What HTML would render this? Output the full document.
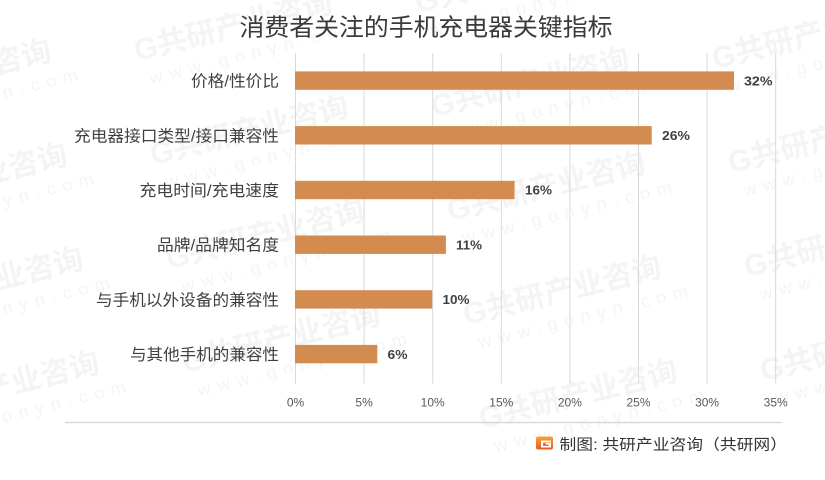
<!DOCTYPE html>
<html>
<head>
<meta charset="utf-8">
<style>
  html, body { margin:0; padding:0; background:#ffffff; }
  body { width:825px; height:480px; overflow:hidden; }
  svg { display:block; }
  .cjk { font-family: "Liberation Sans", "Noto Sans CJK SC", "WenQuanYi Zen Hei", sans-serif; }
  .lat { font-family: "Liberation Sans", "DejaVu Sans", sans-serif; }
</style>
</head>
<body>
<svg width="825" height="480" viewBox="0 0 825 480" xmlns="http://www.w3.org/2000/svg" overflow="hidden">
  <rect x="0" y="0" width="825" height="480" fill="#ffffff"/>

  <!-- Watermarks (behind) -->
  <g class="cjk" fill="#000000" opacity="0.045">
    <g transform="translate(-144,109) rotate(-14)"><text font-size="30" font-weight="bold">G共研产业咨询</text><text x="8" y="26" font-size="18" textLength="215" lengthAdjust="spacing">www.gonyn.com</text></g>
    <g transform="translate(-128,213) rotate(-14)"><text font-size="30" font-weight="bold">G共研产业咨询</text><text x="8" y="26" font-size="18" textLength="215" lengthAdjust="spacing">www.gonyn.com</text></g>
    <g transform="translate(-112,317) rotate(-14)"><text font-size="30" font-weight="bold">G共研产业咨询</text><text x="8" y="26" font-size="18" textLength="215" lengthAdjust="spacing">www.gonyn.com</text></g>
    <g transform="translate(-96,421) rotate(-14)"><text font-size="30" font-weight="bold">G共研产业咨询</text><text x="8" y="26" font-size="18" textLength="215" lengthAdjust="spacing">www.gonyn.com</text></g>

    <g transform="translate(137,61) rotate(-14)"><text font-size="30" font-weight="bold">G共研产业咨询</text><text x="8" y="26" font-size="18" textLength="215" lengthAdjust="spacing">www.gonyn.com</text></g>
    <g transform="translate(153,165) rotate(-14)"><text font-size="30" font-weight="bold">G共研产业咨询</text><text x="8" y="26" font-size="18" textLength="215" lengthAdjust="spacing">www.gonyn.com</text></g>
    <g transform="translate(169,269) rotate(-14)"><text font-size="30" font-weight="bold">G共研产业咨询</text><text x="8" y="26" font-size="18" textLength="215" lengthAdjust="spacing">www.gonyn.com</text></g>
    <g transform="translate(185,373) rotate(-14)"><text font-size="30" font-weight="bold">G共研产业咨询</text><text x="8" y="26" font-size="18" textLength="215" lengthAdjust="spacing">www.gonyn.com</text></g>

    <g transform="translate(418,13) rotate(-14)"><text font-size="30" font-weight="bold">G共研产业咨询</text><text x="8" y="26" font-size="18" textLength="215" lengthAdjust="spacing">www.gonyn.com</text></g>
    <g transform="translate(434,117) rotate(-14)"><text font-size="30" font-weight="bold">G共研产业咨询</text><text x="8" y="26" font-size="18" textLength="215" lengthAdjust="spacing">www.gonyn.com</text></g>
    <g transform="translate(450,221) rotate(-14)"><text font-size="30" font-weight="bold">G共研产业咨询</text><text x="8" y="26" font-size="18" textLength="215" lengthAdjust="spacing">www.gonyn.com</text></g>
    <g transform="translate(466,325) rotate(-14)"><text font-size="30" font-weight="bold">G共研产业咨询</text><text x="8" y="26" font-size="18" textLength="215" lengthAdjust="spacing">www.gonyn.com</text></g>
    <g transform="translate(482,429) rotate(-14)"><text font-size="30" font-weight="bold">G共研产业咨询</text><text x="8" y="26" font-size="18" textLength="215" lengthAdjust="spacing">www.gonyn.com</text></g>

    <g transform="translate(715,69) rotate(-14)"><text font-size="30" font-weight="bold">G共研产业咨询</text><text x="8" y="26" font-size="18" textLength="215" lengthAdjust="spacing">www.gonyn.com</text></g>
    <g transform="translate(731,173) rotate(-14)"><text font-size="30" font-weight="bold">G共研产业咨询</text><text x="8" y="26" font-size="18" textLength="215" lengthAdjust="spacing">www.gonyn.com</text></g>
    <g transform="translate(747,277) rotate(-14)"><text font-size="30" font-weight="bold">G共研产业咨询</text><text x="8" y="26" font-size="18" textLength="215" lengthAdjust="spacing">www.gonyn.com</text></g>
    <g transform="translate(763,381) rotate(-14)"><text font-size="30" font-weight="bold">G共研产业咨询</text><text x="8" y="26" font-size="18" textLength="215" lengthAdjust="spacing">www.gonyn.com</text></g>
  </g>

  <!-- Title -->
  <text class="cjk" x="239.5" y="35.5" font-size="24" fill="#3a3a3a" textLength="373" lengthAdjust="spacingAndGlyphs">消费者关注的手机充电器关键指标</text>

  <!-- Gridlines -->
  <g stroke="#d9d9d9" stroke-width="1">
    <line x1="295.5" y1="53" x2="295.5" y2="383.5"/>
    <line x1="364.1" y1="53" x2="364.1" y2="383.5"/>
    <line x1="432.7" y1="53" x2="432.7" y2="383.5"/>
    <line x1="501.3" y1="53" x2="501.3" y2="383.5"/>
    <line x1="569.9" y1="53" x2="569.9" y2="383.5"/>
    <line x1="638.5" y1="53" x2="638.5" y2="383.5"/>
    <line x1="707.1" y1="53" x2="707.1" y2="383.5"/>
    <line x1="775.7" y1="53" x2="775.7" y2="383.5"/>
  </g>

  <!-- Bars -->
  <g fill="#d38b4f">
    <rect x="295" y="71.4" width="439.0" height="18.4"/>
    <rect x="295" y="126.1" width="356.7" height="18.4"/>
    <rect x="295" y="180.8" width="219.5" height="18.4"/>
    <rect x="295" y="235.5" width="150.9" height="18.4"/>
    <rect x="295" y="290.2" width="137.2" height="18.4"/>
    <rect x="295" y="344.9" width="82.3" height="18.4"/>
  </g>

  <!-- Category labels -->
  <g class="cjk" font-size="16" fill="#404040" text-anchor="end">
    <text x="279" y="86.6" textLength="88" lengthAdjust="spacingAndGlyphs">价格/性价比</text>
    <text x="279" y="141.3" textLength="205" lengthAdjust="spacingAndGlyphs">充电器接口类型/接口兼容性</text>
    <text x="279" y="196" textLength="139.5" lengthAdjust="spacingAndGlyphs">充电时间/充电速度</text>
    <text x="279" y="250.7" textLength="122" lengthAdjust="spacingAndGlyphs">品牌/品牌知名度</text>
    <text x="279" y="305.4" textLength="183" lengthAdjust="spacingAndGlyphs">与手机以外设备的兼容性</text>
    <text x="279" y="360.1" textLength="149" lengthAdjust="spacingAndGlyphs">与其他手机的兼容性</text>
  </g>

  <!-- Value labels -->
  <g class="lat" font-size="13" font-weight="bold" fill="#404040">
    <text x="744" y="85.3" textLength="28.5" lengthAdjust="spacingAndGlyphs">32%</text>
    <text x="662" y="140" textLength="28" lengthAdjust="spacingAndGlyphs">26%</text>
    <text x="525" y="194.7" textLength="27" lengthAdjust="spacingAndGlyphs">16%</text>
    <text x="456" y="249.4" textLength="26" lengthAdjust="spacingAndGlyphs">11%</text>
    <text x="442.5" y="304.1" textLength="27" lengthAdjust="spacingAndGlyphs">10%</text>
    <text x="387.5" y="358.8" textLength="20" lengthAdjust="spacingAndGlyphs">6%</text>
  </g>

  <!-- X tick labels -->
  <g class="lat" font-size="12" fill="#595959" text-anchor="middle">
    <text x="295.5" y="406.5">0%</text>
    <text x="364.1" y="406.5">5%</text>
    <text x="432.7" y="406.5">10%</text>
    <text x="501.3" y="406.5">15%</text>
    <text x="569.9" y="406.5">20%</text>
    <text x="638.5" y="406.5">25%</text>
    <text x="707.1" y="406.5">30%</text>
    <text x="775.7" y="406.5">35%</text>
  </g>

  <!-- Separator -->
  <line x1="65" y1="422.5" x2="782" y2="422.5" stroke="#d9d9d9" stroke-width="1.5"/>

  <!-- Source -->
  <defs>
    <linearGradient id="lg" x1="0" y1="0" x2="0" y2="1">
      <stop offset="0" stop-color="#f9a23a"/>
      <stop offset="1" stop-color="#ee5a1e"/>
    </linearGradient>
  </defs>
  <rect x="536" y="436.5" width="17" height="13" rx="2" fill="url(#lg)"/>
  <path d="M541 440.5 H551 V442.5 H543 V446 H548.5 V444.5 H546 V443 H551 V447.5 H541 Z" fill="#ffffff"/>
  <text class="cjk" x="559.5" y="449.5" font-size="15" fill="#333333" textLength="227.5" lengthAdjust="spacingAndGlyphs">制图: 共研产业咨询（共研网）</text>
</svg>
</body>
</html>
